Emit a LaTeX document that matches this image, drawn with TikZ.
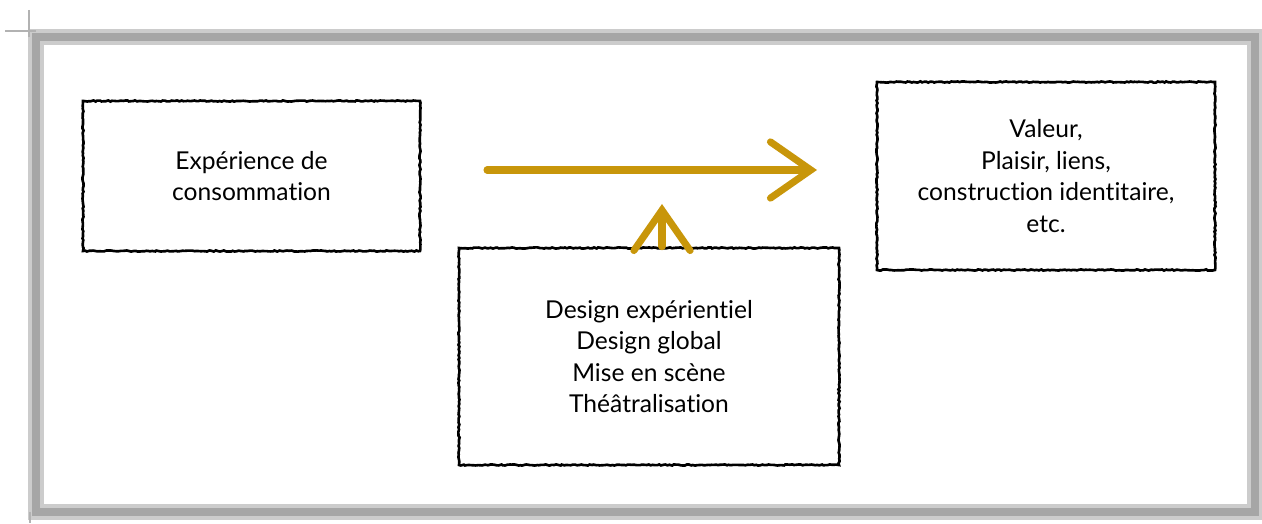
\documentclass[tikz,border=0pt]{standalone}
\usepackage{fontspec}
\setmainfont{Lato}[RawFeature={-liga;-clig;-dlig;-calt}]
\usetikzlibrary{arrows.meta,decorations.pathmorphing}
\definecolor{gold}{RGB}{200,150,10}
\tikzset{
  box/.style={draw, line width=1.5pt, align=center, inner sep=0pt,
    decorate, decoration={random steps, segment length=1.2pt, amplitude=0.35pt},
    font=\fontsize{14}{18}\selectfont},
  goldarrow/.style={draw=gold, line width=4pt, line cap=round,
    -{Straight Barb[length=23pt,width=32pt,line cap=round]}},
  frameline/.style={line width=4.5pt}
}
\begin{document}
\begin{tikzpicture}[x=0.02cm,y=0.02cm]
    \useasboundingbox (0,0) rectangle (1262,524);
    % frame
    \draw[gray!40, frameline, line width=9pt] (36,487) -- (1255,487) -- (1255,12) -- (36,12) -- cycle;
    \draw[gray!70, frameline] (36,487) -- (1255,487) -- (1255,12) -- (36,12) -- cycle;
    \draw[gray!60, line width=1.5pt] (5,493) -- (36,493);
    \draw[gray!60, line width=1.5pt] (29,514) -- (29,487);
    \draw[gray!60, line width=1.5pt] (30,12) -- (30,1);
    % boxes
    \node[box, minimum width=337*0.02cm, minimum height=150*0.02cm] (experience) at (251.5,348)
        {Expérience de\\consommation};
    \node[box, minimum width=338*0.02cm, minimum height=188*0.02cm] (valeur) at (1046,348)
        {Valeur,\\Plaisir, liens,\\construction identitaire,\\etc.};
    \node[box, minimum width=380*0.02cm, minimum height=217*0.02cm] (design) at (649,167.5)
        {Design expérientiel\\Design global\\Mise en scène\\Théâtralisation};
    % arrows
    \coordinate (arrowstart) at (487,354);
    \coordinate (arrowend) at (817,354);
    \coordinate (uptip) at (662,320);
    \draw[goldarrow] (arrowstart) -- (arrowend);
    \draw[goldarrow] (design.north -| uptip) -- (uptip);
\end{tikzpicture}
\end{document}
